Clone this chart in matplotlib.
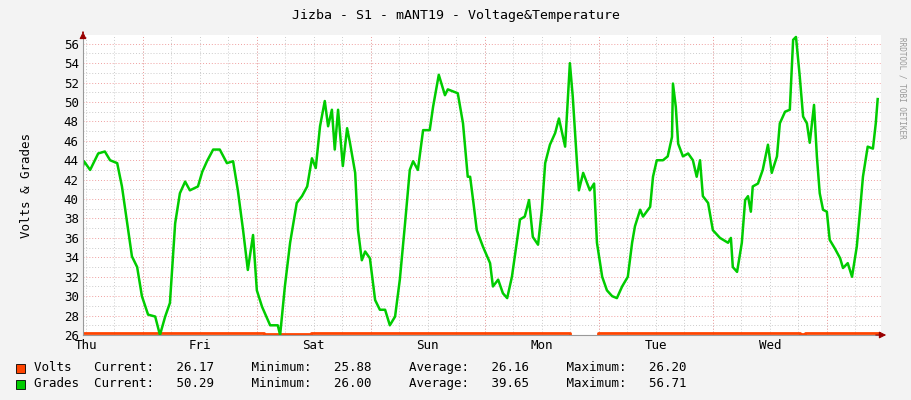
import matplotlib
matplotlib.use("Agg")
import matplotlib.pyplot as plt
from matplotlib.patches import Rectangle

day_labels = ["Thu", "Fri", "Sat", "Sun", "Mon", "Tue", "Wed"]
y_ticks = list(range(26, 57, 2))

grades_hours = [0, 0.2, 1.5, 3.2, 4.6, 5.7, 7.2, 8.2, 9.3, 10.3, 11.4, 12.4, 13.7, 15.2, 16.2, 17.3, 18.3, 19.4, 20.4, 21.5, 22.5,
    24.2, 25.1, 26.1, 27.4, 28.8, 30.3, 31.6, 32.6, 33.7, 34.7, 35.8, 36.6, 37.7, 39.4, 41.0, 41.5, 42.5, 43.6, 45.0, 46.1, 47.2,
    48.2, 49.0, 49.9, 50.9, 51.6, 52.4, 53.0, 53.7, 54.7, 55.6, 56.2, 57.3, 57.9, 58.7, 59.4, 60.4, 61.5, 62.5, 63.6, 64.6, 65.7,
    66.7, 67.8, 68.8, 69.5, 70.5, 71.6, 73.0, 73.7, 74.9, 76.2, 76.8, 78.9, 80.0, 81.0, 81.5, 82.2, 82.9, 84.2, 85.7, 86.3, 87.4,
    88.4, 89.3, 90.3, 90.9, 92.0, 93.0, 93.9, 94.7, 95.8, 96.6, 97.3, 98.3, 99.4, 100.2, 101.5, 102.5, 103.1, 104.0, 104.4, 105.3,
    106.7, 107.6, 108.2, 109.3, 110.3, 111.4, 112.4, 113.5, 114.7, 115.6, 116.2, 117.3, 117.9, 119.4, 120.0, 120.8, 122.1, 123.1,
    124.0, 124.2, 124.8, 125.3, 126.3, 127.4, 128.4, 129.2, 129.9, 130.5, 131.6, 132.6, 134.1, 135.8, 136.4, 136.8, 137.7, 138.7,
    139.4, 140.0, 140.6, 141.0, 142.1, 143.1, 144.2, 145.0, 146.1, 146.7, 147.8, 148.8, 149.5, 150.1, 150.9, 151.6, 152.4, 153.0,
    153.9, 154.5, 155.1, 155.8, 156.6, 157.2, 158.3, 159.4, 160.0, 161.0, 161.9, 162.9, 163.6, 164.2, 165.2, 166.3, 166.9, 167.3]
grades = [43.4, 43.9, 43.0, 44.7, 44.9, 44.0, 43.7, 41.3, 37.5, 34.1, 33.0, 30.0, 28.1, 27.9, 26.0, 27.9, 29.3, 37.5, 40.6, 41.8, 40.9,
    41.3, 42.8, 43.9, 45.1, 45.1, 43.7, 43.9, 40.9, 36.8, 32.7, 36.3, 30.6, 28.9, 27.0, 27.0, 26.0, 31.0, 35.5, 39.6, 40.3, 41.3,
    44.2, 43.2, 47.5, 50.1, 47.5, 49.2, 45.1, 49.2, 43.4, 47.3, 45.8, 42.7, 36.8, 33.7, 34.6, 33.9, 29.6, 28.6, 28.6, 27.0, 27.9,
    31.7, 37.5, 43.0, 43.9, 43.0, 47.1, 47.1, 49.5, 52.8, 50.7, 51.3, 50.9, 47.8, 42.3, 42.3, 39.6, 36.8, 35.1, 33.4, 31.0, 31.7,
    30.3, 29.8, 32.0, 34.1, 37.9, 38.2, 39.9, 36.1, 35.3, 38.9, 43.7, 45.6, 46.8, 48.3, 45.4, 54.0, 50.6, 43.7, 40.9, 42.7,
    40.9, 41.6, 35.5, 32.0, 30.6, 30.0, 29.8, 31.0, 32.0, 35.5, 37.2, 38.9, 38.2, 39.2, 42.3, 44.0, 44.0, 44.4,
    46.4, 51.9, 49.5, 45.7, 44.4, 44.7, 44.0, 42.3, 44.0, 40.3, 39.6, 36.8, 36.0, 35.5, 36.0, 33.0, 32.5, 35.5,
    39.9, 40.3, 38.7, 41.3, 41.6, 43.0, 45.6, 42.7, 44.4, 47.8, 49.0, 49.2, 56.4, 56.7, 52.6, 48.5, 47.8, 45.8,
    49.7, 44.4, 40.6, 38.9, 38.7, 35.8, 34.9, 33.9, 32.9, 33.4, 32.0, 35.1, 38.9, 42.3, 45.4, 45.2, 47.8, 50.3]

volts_hours = [0, 12, 24, 36, 38, 48, 60, 72, 84, 96, 102, 102.5, 108, 108.5, 120, 132, 144, 150, 151, 152, 156, 168]
volts = [26.17, 26.17, 26.17, 26.17, 26.15, 26.17, 26.17, 26.17, 26.17, 26.17, 26.17, 25.88, 25.88, 26.17, 26.17, 26.17,
         26.17, 26.16, 26.12, 26.16, 26.17, 26.17]

mono = "DejaVu Sans Mono"
fig = plt.figure(figsize=(9.11, 4.0), dpi=100, facecolor="#f3f3f3")
ax = fig.add_axes([83/911, 65/400, 798/911, 300/400])
ax.set_facecolor("white")
ax.set_xlim(0, 168)
ax.set_ylim(26, 56.9)

for h in [0.6 + 6*k for k in range(28)]:
    ax.axvline(h, color="#cccccc", lw=0.7, ls=(0, (1, 2)), zorder=0)
for h in [12.6 + 24*k for k in range(7)]:
    ax.axvline(h, color="#f0a0a0", lw=0.7, ls=(0, (1, 2)), zorder=0)
for v in range(27, 57):
    c = "#f0a0a0" if v % 2 == 0 else "#cccccc"
    ax.axhline(v, color=c, lw=0.7, ls=(0, (1, 2)), zorder=0)

ax.plot(volts_hours, volts, color="#ff4400", lw=2, drawstyle="steps-post", clip_on=True)
ax.plot(grades_hours, grades, color="#00cc00", lw=1.8)

ax.set_yticks(y_ticks)
ax.set_yticklabels([str(v) for v in y_ticks], fontfamily=mono, fontsize=9)
ax.set_xticks([24*k + 0.6 for k in range(7)])
ax.set_xticklabels(day_labels, fontfamily=mono, fontsize=9)
ax.tick_params(length=0, pad=3)
for s in ["top", "right"]:
    ax.spines[s].set_visible(False)
for s in ["left", "bottom"]:
    ax.spines[s].set_color("#999999")
ax.annotate("", xy=(1.01, 0), xycoords="axes fraction", xytext=(0.99, 0),
            arrowprops=dict(arrowstyle="-|>", color="#990000", lw=0.8))
ax.annotate("", xy=(0, 1.02), xycoords="axes fraction", xytext=(0, 1.0),
            arrowprops=dict(arrowstyle="-|>", color="#990000", lw=0.8))
ax.set_ylabel("Volts & Grades", fontfamily=mono, fontsize=9, labelpad=22)

fig.text(0.5, 0.962, "Jizba - S1 - mANT19 - Voltage&Temperature", ha="center", va="center", fontfamily=mono, fontsize=9.5)
fig.text(0.99, 0.78, "RRDTOOL / TOBI OETIKER", rotation=270, ha="center", va="center", fontfamily=mono, fontsize=5.5, color="#999999")

rows = [("#ff4400", "Volts   Current:   26.17     Minimum:   25.88     Average:   26.16     Maximum:   26.20", 368),
        ("#00cc00", "Grades  Current:   50.29     Minimum:   26.00     Average:   39.65     Maximum:   56.71", 384)]
for col, txt, y in rows:
    fig.patches.append(Rectangle((16/911, 1 - (y + 5)/400), 9/911, 9/400, transform=fig.transFigure,
                                 facecolor=col, edgecolor="black", lw=0.6))
    fig.text(34/911, 1 - y/400, txt, ha="left", va="center", fontfamily=mono, fontsize=9)

fig.savefig("out.png", dpi=100, facecolor=fig.get_facecolor())
